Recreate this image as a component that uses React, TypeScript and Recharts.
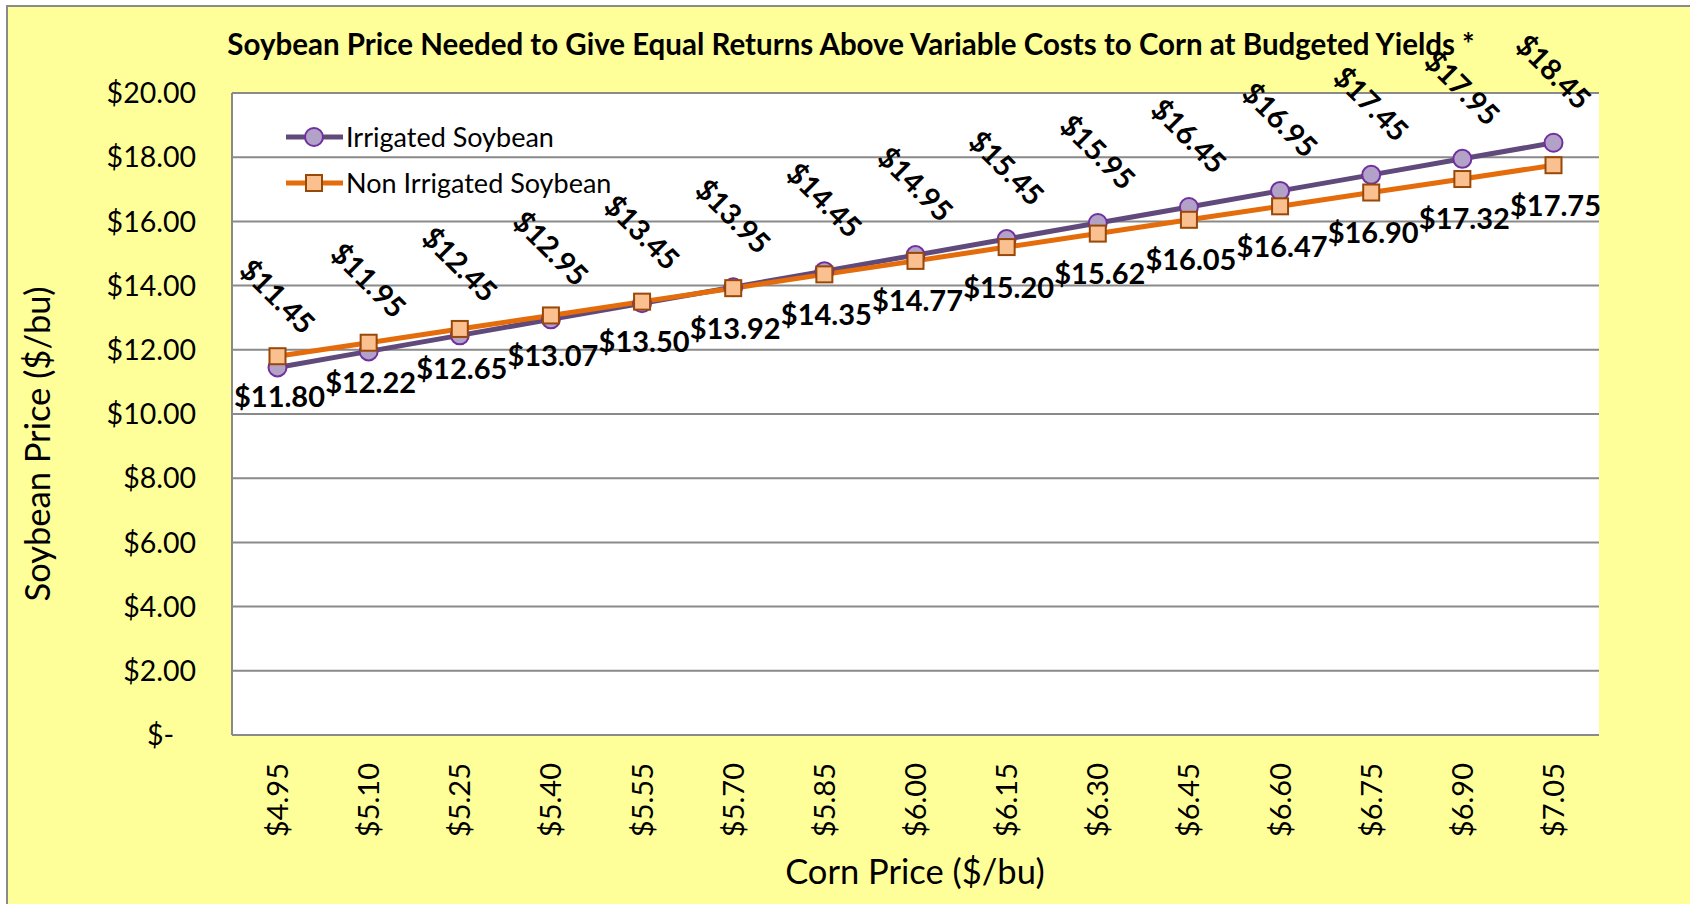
import React from 'react';
import { LineChart, Line, XAxis, YAxis, CartesianGrid, LabelList } from 'recharts';

const cornPrices = ['$4.95', '$5.10', '$5.25', '$5.40', '$5.55', '$5.70', '$5.85', '$6.00', '$6.15', '$6.30', '$6.45', '$6.60', '$6.75', '$6.90', '$7.05'];
const irrigated = [11.45, 11.95, 12.45, 12.95, 13.45, 13.95, 14.45, 14.95, 15.45, 15.95, 16.45, 16.95, 17.45, 17.95, 18.45];
const nonIrrigated = [11.8, 12.22, 12.65, 13.07, 13.5, 13.92, 14.35, 14.77, 15.2, 15.62, 16.05, 16.47, 16.9, 17.32, 17.75];
const yTicks = [0, 2, 4, 6, 8, 10, 12, 14, 16, 18, 20];

const title = 'Soybean Price Needed to Give Equal Returns Above Variable Costs to Corn at Budgeted Yields *';
const xTitle = 'Corn Price ($/bu)';
const yTitle = 'Soybean Price ($/bu)';
const seriesNames = ['Irrigated Soybean', 'Non Irrigated Soybean'];

const data = cornPrices.map((c, i) => ({ corn: c, irr: irrigated[i], non: nonIrrigated[i] }));

const FONT = 'Lato, "Open Sans", sans-serif';
const PURPLE_LINE = '#604A7B';
const PURPLE_FILL = '#B3A2C7';
const PURPLE_STROKE = '#7030A0';
const ORANGE_LINE = '#E46C0A';
const ORANGE_FILL = '#FAC090';
const ORANGE_STROKE = '#984807';
const GRID = '#8A8A8A';

const fmt = (v: number) => '$' + v.toFixed(2);

const YTick = (props: any) => {
  const { x, y, payload } = props;
  const v = payload.value as number;
  const label = v === 0 ? '$-' : fmt(v);
  return (
    <text x={v === 0 ? x - 22 : x} y={y} dy="0.36em" textAnchor="end" fontFamily={FONT} fontSize={28.5} fill="#000">
      {label}
    </text>
  );
};

const XTick = (props: any) => {
  const { x, y, payload } = props;
  return (
    <text
      x={0}
      y={0}
      dy="0.36em"
      textAnchor="end"
      fontFamily={FONT}
      fontSize={29}
      fill="#000"
      transform={`translate(${x},${y}) rotate(-90)`}
    >
      {payload.value}
    </text>
  );
};

const IrrLabel = (props: any) => {
  const { x, y, value } = props;
  return (
    <text
      x={0}
      y={0}
      dy="0.36em"
      textAnchor="middle"
      fontFamily={FONT}
      fontWeight={700}
      fontSize={29}
      fill="#000"
      transform={`translate(${x},${y - 71}) rotate(45)`}
    >
      {fmt(value)}
    </text>
  );
};

const NonLabel = (props: any) => {
  const { x, y, value } = props;
  return (
    <text x={x + 2} y={y + 40} dy="0.36em" textAnchor="middle" fontFamily={FONT} fontWeight={700} fontSize={29} fill="#000">
      {fmt(value)}
    </text>
  );
};

const SquareDot = (props: any) => {
  const { cx, cy, index } = props;
  if (cx == null || cy == null) return null;
  return (
    <rect key={`sq-${index}`} x={cx - 8} y={cy - 8} width={16} height={16} fill={ORANGE_FILL} stroke={ORANGE_STROKE} strokeWidth={2} />
  );
};

export default function App() {
  return (
    <div style={{ position: 'fixed', left: 0, top: 0, width: 1690, height: 904, overflow: 'hidden', background: '#fff' }}>
      <div
        style={{
          position: 'absolute',
          left: 6,
          top: 5,
          width: 1800,
          height: 1000,
          background: '#FFFF99',
          borderLeft: `2px solid ${GRID}`,
          borderTop: `2px solid ${GRID}`,
        }}
      />
      <div style={{ position: 'absolute', left: 0, top: 0 }}>
        <LineChart width={1690} height={904} data={data} margin={{ top: 93, right: 91, bottom: 109, left: 132 }}>
          <CartesianGrid vertical={false} stroke={GRID} strokeWidth={2} fill="#FFFFFF" fillOpacity={1} />
          <XAxis
            dataKey="corn"
            height={60}
            padding={{ left: 45.5, right: 45.5 }}
            axisLine={{ stroke: GRID, strokeWidth: 2 }}
            tickLine={false}
            tickSize={0}
            tickMargin={28}
            interval={0}
            tick={<XTick />}
          />
          <YAxis
            width={100}
            domain={[0, 20]}
            ticks={yTicks}
            interval={0}
            axisLine={{ stroke: GRID, strokeWidth: 2 }}
            tickLine={false}
            tickSize={0}
            tickMargin={36}
            tick={<YTick />}
          />
          <Line
            type="linear"
            dataKey="irr"
            name={seriesNames[0]}
            stroke={PURPLE_LINE}
            strokeWidth={5}
            dot={{ r: 9, fill: PURPLE_FILL, stroke: PURPLE_STROKE, strokeWidth: 2 }}
            isAnimationActive={false}
          >
            <LabelList dataKey="irr" content={<IrrLabel />} />
          </Line>
          <Line
            type="linear"
            dataKey="non"
            name={seriesNames[1]}
            stroke={ORANGE_LINE}
            strokeWidth={5}
            dot={<SquareDot />}
            isAnimationActive={false}
          >
            <LabelList dataKey="non" content={<NonLabel />} />
          </Line>
        </LineChart>
      </div>
      <svg width={1690} height={904} style={{ position: 'absolute', left: 0, top: 0, pointerEvents: 'none' }}>
        <text x={851} y={55} textAnchor="middle" fontFamily={FONT} fontWeight={700} fontSize={29.5} fill="#000">
          {title}
        </text>
        <text x={915} y={884} textAnchor="middle" fontFamily={FONT} fontSize={34.5} fill="#000">
          {xTitle}
        </text>
        <text x={0} y={0} textAnchor="middle" fontFamily={FONT} fontSize={34.5} fill="#000" transform="translate(50,444) rotate(-90)">
          {yTitle}
        </text>
        {/* legend */}
        <g>
          <line x1={286} y1={137} x2={343} y2={137} stroke={PURPLE_LINE} strokeWidth={5} />
          <circle cx={314} cy={137} r={9} fill={PURPLE_FILL} stroke={PURPLE_STROKE} strokeWidth={2} />
          <text x={346} y={137} dy="0.36em" fontFamily={FONT} fontSize={27} fill="#000">
            {seriesNames[0]}
          </text>
          <line x1={286} y1={183} x2={343} y2={183} stroke={ORANGE_LINE} strokeWidth={5} />
          <rect x={306} y={175} width={16} height={16} fill={ORANGE_FILL} stroke={ORANGE_STROKE} strokeWidth={2} />
          <text x={346} y={183} dy="0.36em" fontFamily={FONT} fontSize={27} fill="#000">
            {seriesNames[1]}
          </text>
        </g>
      </svg>
    </div>
  );
}
